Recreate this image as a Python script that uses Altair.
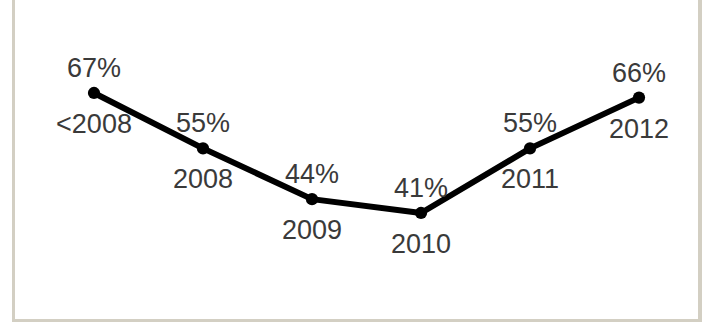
import altair as alt
import pandas as pd

years = ["<2008", "2008", "2009", "2010", "2011", "2012"]
shares = [67, 55, 44, 41, 55, 66]
pct_labels = ["67%", "55%", "44%", "41%", "55%", "66%"]

df = pd.DataFrame({"year": years, "share": shares, "label": pct_labels})
one = pd.DataFrame({"k": [0]})

FONT = "Liberation Sans Narrow, Liberation Sans, sans-serif"
TXT = "#3a3a3a"
FRAME = "#d3cfc3"

x = alt.X("year:N", sort=years, axis=None,
          scale=alt.Scale(type="point", range=[94, 639], padding=0))
y = alt.Y("share:Q", axis=None,
          scale=alt.Scale(domain=[17.38, 87.15], zero=False, nice=False))

base = alt.Chart(df).encode(x=x, y=y)
line = base.mark_line(color="#000000", strokeWidth=6, strokeJoin="round")
pts = base.mark_circle(color="#000000", size=150, opacity=1)
pct = base.mark_text(font=FONT, fontSize=27, color=TXT, baseline="alphabetic",
                     dy=-16).encode(text="label:N")
yr = base.mark_text(font=FONT, fontSize=27, color=TXT, baseline="alphabetic",
                    dy=40).encode(text="year:N")

left = alt.Chart(one).mark_rule(color=FRAME, strokeWidth=3).encode(
    x=alt.value(13.5), y=alt.value(0), y2=alt.value(322))
right = alt.Chart(one).mark_rule(color=FRAME, strokeWidth=4).encode(
    x=alt.value(700), y=alt.value(0), y2=alt.value(322))
bottom = alt.Chart(one).mark_rule(color=FRAME, strokeWidth=3).encode(
    x=alt.value(12), x2=alt.value(702), y=alt.value(320.5))

chart = alt.layer(left, right, bottom, line, pts, pct, yr).properties(
    width=713, height=322, padding=0,
    autosize=alt.AutoSizeParams(type="none"),
    background="white",
).configure_view(stroke=None)

chart.save("out.html", embed_options={"renderer": "svg", "actions": False})
